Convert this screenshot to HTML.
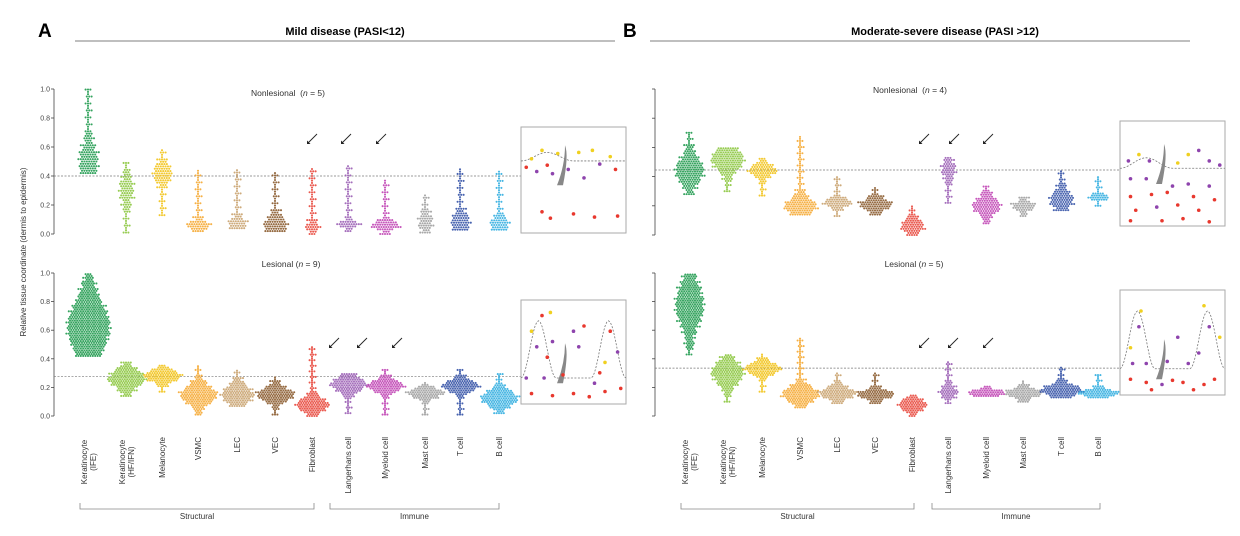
<!DOCTYPE html>
<html><head><meta charset="utf-8"><style>
html,body{margin:0;padding:0;background:#fff;}
svg{display:block;font-family:"Liberation Sans",sans-serif;}
</style></head><body>
<svg id="fig" width="1240" height="536" viewBox="0 0 1240 536">
<g>
<text x="38" y="37" font-size="19" font-weight="bold">A</text>
<text x="345" y="35" font-size="11" font-weight="bold" text-anchor="middle">Mild disease (PASI&lt;12)</text>
<line x1="75" y1="41" x2="615" y2="41" stroke="#555" stroke-width="0.8"/>
</g>
<g>
<text x="623" y="37" font-size="19" font-weight="bold">B</text>
<text x="945" y="35" font-size="11" font-weight="bold" text-anchor="middle">Moderate-severe disease (PASI &gt;12)</text>
<line x1="650" y1="41" x2="1190" y2="41" stroke="#555" stroke-width="0.8"/>
</g>
<text transform="translate(26,252) rotate(-90)" font-size="8" text-anchor="middle" fill="#333">Relative tissue coordinate (dermis to epidermis)</text>
<g id="plots"></g>
<g id="insets"></g>
</svg>
<script>
const categories = ["Keratinocyte|(IFE)","Keratinocyte|(HF/IFN)","Melanocyte","VSMC","LEC","VEC","Fibroblast","Langerhans cell","Myeloid cell","Mast cell","T cell","B cell"];
const colors = ["#1f9a4e","#8cc63f","#f2c31a","#f5a832","#c9a26e","#8a5a2c","#e8473c","#9b5fb5","#c044b4","#9e9e9e","#3452a6","#32aee0"];
const tickLabels = ["0.0","0.2","0.4","0.6","0.8","1.0"];
const tickValues = [0,0.2,0.4,0.6,0.8,1.0];
// per-panel summaries: min, max, dense centre, spread, max half-width (dots)
const aNLmin=[.42,.01,.13,.02,.04,.02,0,.02,0,.01,.03,.03];
const aNLmax=[1.0,.5,.59,.44,.44,.43,.46,.48,.37,.28,.45,.43];
const aNLmed=[.5,.3,.42,.06,.07,.06,.05,.07,.06,.08,.08,.07];
const aNLspr=[.15,.12,.08,.04,.05,.08,.04,.03,.04,.08,.08,.06];
const aNLwid=[3,2,3,4,3,4,2,4,5,2,3,3];
const aNLref=0.40;
const aLmin=[.42,.14,.17,.01,.07,.01,0,.02,.01,.01,.01,.02];
const aLmax=[1.0,.38,.36,.35,.32,.28,.49,.3,.33,.24,.33,.3];
const aLmed=[.62,.26,.28,.15,.15,.15,.08,.22,.21,.16,.21,.12];
const aLspr=[.25,.08,.05,.08,.08,.06,.06,.06,.05,.04,.05,.07];
const aLwid=[8,7,7,7,6,7,6,7,7,7,7,7];
const aLref=0.275;
const bNLmin=[.28,.3,.27,.14,.13,.14,0,.22,.08,.13,.17,.2];
const bNLmax=[.7,.6,.53,.68,.4,.33,.2,.54,.34,.26,.44,.4];
const bNLmed=[.44,.52,.44,.2,.22,.21,.06,.45,.2,.2,.24,.26];
const bNLspr=[.12,.1,.05,.07,.04,.05,.06,.08,.07,.04,.08,.02];
const bNLwid=[5,6,5,6,5,6,4,2,5,4,4,4];
const bNLref=0.445;
const bLmin=[.43,.1,.17,.06,.09,.09,0,.09,.14,.1,.13,.13];
const bLmax=[1.0,.43,.43,.55,.3,.31,.15,.38,.21,.25,.34,.29];
const bLmed=[.78,.3,.33,.15,.16,.15,.08,.17,.16,.16,.18,.16];
const bLspr=[.2,.1,.05,.07,.05,.04,.05,.05,.03,.04,.05,.03];
const bLwid=[5,6,7,7,7,7,5,3,7,7,8,8];
const bLref=0.335;

const NS="http://www.w3.org/2000/svg";
const plots=document.getElementById('plots');
function mk(tag,attrs,parent){const e=document.createElementNS(NS,tag);for(const k in attrs)e.setAttribute(k,attrs[k]);parent.appendChild(e);return e;}

function drawPanel(cfg){
  const g=mk('g',{},plots);
  
  
  const y=v=>cfg.y0-(cfg.y0-cfg.y1)*v;
  const x=i=>cfg.xs[i];
  const ax=mk('line',{x1:cfg.ax,y1:y(0),x2:cfg.ax,y2:y(1),stroke:'#444','stroke-width':0.8},g);
  
  
  tickValues.forEach((t,k)=>{
    mk('line',{x1:cfg.ax-3,y1:y(t),x2:cfg.ax,y2:y(t),stroke:'#444','stroke-width':0.8},g);
    if(cfg.labels){const tl=mk('text',{x:cfg.ax-4,y:y(t)+2.5,'font-size':7,'text-anchor':'end',fill:'#444'},g);tl.textContent=tickLabels[k];
      
      }
  });
  const rl=mk('line',{x1:cfg.ax,y1:y(cfg.ref),x2:cfg.refEnd,y2:y(cfg.ref),stroke:'#777','stroke-width':0.7,'stroke-dasharray':'2,1.5'},g);
  
  
  const st=mk('text',{x:cfg.subX,y:cfg.subY,'font-size':8.5,'text-anchor':'middle',fill:'#333'},g);
  st.innerHTML=cfg.sub;
  
  
  categories.forEach((c,i)=>{
    const sw=mk('g',{fill:colors[i],'fill-opacity':0.9},g);
    
    
    const lo=cfg.min[i],hi=cfg.max[i],m=cfg.med[i],s=cfg.spr[i],w=cfg.wid[i];
    let row=0;
    for(let v=lo;v<=hi+1e-9;v+=cfg.step){
      const d=(v-m)/s;
      const n=Math.round(w*Math.exp(-d*d))+(row%3===0?1:0);
      const off=(row%2)*1.2;
      for(let j=-n;j<=n;j++){
        mk('circle',{cx:x(i)+j*2.4+(n?off:0),cy:y(v),r:1.05},sw);
      }
      row++;
    }
  });
  cfg.arrows.forEach(a=>{
    const ar=mk('g',{},g);
    
    
    mk('line',{x1:a[0]+5,y1:a[1]-5,x2:a[0]-4,y2:a[1]+4,stroke:'#222','stroke-width':0.9},ar);
    mk('path',{d:`M${a[0]-5} ${a[1]+5} l0 -3.5 l3.5 3.5z`,fill:'#222'},ar);
  });
}
const xsA=[88,126,162,198,237,275,312,348,385,425,460,499];
const xsB=[689,727,762,800,837,875,912,948,986,1023,1061,1098];
drawPanel({name:'panel-a-nonlesional',step:0.016,y0:234,y1:89,ax:54,xs:xsA,labels:true,min:aNLmin,max:aNLmax,med:aNLmed,spr:aNLspr,wid:aNLwid,ref:aNLref,refEnd:620,sub:'Nonlesional&#160;&#160;(<tspan font-style="italic">n</tspan> = 5)',subX:288,subY:96,arrows:[[312,139],[346,139],[381,139]]});
drawPanel({name:'panel-a-lesional',step:0.013,y0:416,y1:273,ax:54,xs:xsA,labels:true,min:aLmin,max:aLmax,med:aLmed,spr:aLspr,wid:aLwid,ref:aLref,refEnd:620,sub:'Lesional (<tspan font-style="italic">n</tspan> = 9)',subX:291,subY:267,arrows:[[334,343],[362,343],[397,343]]});
drawPanel({name:'panel-b-nonlesional',step:0.014,y0:235,y1:89,ax:655,xs:xsB,labels:false,min:bNLmin,max:bNLmax,med:bNLmed,spr:bNLspr,wid:bNLwid,ref:bNLref,refEnd:1225,sub:'Nonlesional&#160;&#160;(<tspan font-style="italic">n</tspan> = 4)',subX:910,subY:93,arrows:[[924,139],[954,139],[988,139]]});
drawPanel({name:'panel-b-lesional',step:0.013,y0:416,y1:273,ax:655,xs:xsB,labels:false,min:bLmin,max:bLmax,med:bLmed,spr:bLspr,wid:bLwid,ref:bLref,refEnd:1225,sub:'Lesional (<tspan font-style="italic">n</tspan> = 5)',subX:914,subY:267,arrows:[[924,343],[953,343],[988,343]]});

function drawLabels(xs,br,name){
  const g=mk('g',{},plots);
  
  
  categories.forEach((c,i)=>{
    const parts=c.split('|');
    const t=mk('text',{transform:`translate(${xs[i]},437) rotate(-90)`,'font-size':8,'text-anchor':'end',fill:'#333'},g);
    
    
    parts.forEach((p,k)=>{const ts=mk('tspan',{x:0,dy:k?9:(parts.length>1?-1:3)},t);ts.textContent=p;});
    if(parts.length>1){t.setAttribute('text-anchor','middle');t.setAttribute('transform',`translate(${xs[i]},${462}) rotate(-90)`);}
  });
  const groups=[["Structural",br[0],br[1]],["Immune",br[2],br[3]]];
  groups.forEach(gp=>{
    const b=mk('path',{d:`M${gp[1]} 503 V509 H${gp[2]} V503`,fill:'none',stroke:'#888','stroke-width':0.8},g);
    
    
    const t=mk('text',{x:(gp[1]+gp[2])/2,y:519,'font-size':8,'text-anchor':'middle',fill:'#333'},g);
    t.textContent=gp[0];
    
    
  });
}
drawLabels(xsA,[80,314,330,499],'panel-a-x-labels');
drawLabels(xsB,[681,914,932,1100],'panel-b-x-labels');

const insets=document.getElementById('insets');
function inset(x0,y0,w,h,name,peaks){
  const g=mk('g',{},insets);
  
  
  mk('rect',{x:x0,y:y0,width:w,height:h,fill:'#fff',stroke:'#aaa','stroke-width':1},g);
  const base=y0+h*peaks.base,amp=h*peaks.amp;
  let d=`M${x0} ${base}`;
  for(let k=0;k<=60;k++){const t=k/60;d+=` L${x0+t*w} ${base-amp*Math.pow(Math.max(0,Math.sin(Math.PI*t*peaks.n)),2)}`;}
  mk('path',{d:d,fill:'none',stroke:'#777','stroke-width':0.8,'stroke-dasharray':'2,1.5'},g);
  mk('path',{d:`M${x0+w*0.4} ${y0+h*peaks.hair} q6 -30 2 -40 q0 20 -8 40z`,fill:'#888'},g);
  peaks.dots.forEach(p=>mk('circle',{cx:x0+p[0]*w,cy:y0+p[1]*h,r:1.8,fill:p[2]},g));
}
const Y='#f0d020',P='#8e44ad',R='#e8382e';
inset(521,127,105,106,'inset-a-nonlesional',{base:.32,amp:.08,n:2,hair:.55,dots:[[.1,.3,Y],[.2,.22,Y],[.35,.25,Y],[.55,.24,Y],[.68,.22,Y],[.85,.28,Y],[.05,.38,R],[.15,.42,P],[.25,.36,R],[.3,.44,P],[.45,.4,P],[.6,.48,P],[.75,.35,P],[.9,.4,R],[.2,.8,R],[.28,.86,R],[.5,.82,R],[.7,.85,R],[.92,.84,R]]});
inset(521,300,105,104,'inset-a-lesional',{base:.75,amp:.55,n:3,hair:.8,dots:[[.1,.3,Y],[.2,.15,R],[.28,.12,Y],[.15,.45,P],[.3,.4,P],[.25,.55,R],[.05,.75,P],[.22,.75,P],[.4,.72,R],[.5,.3,P],[.55,.45,P],[.6,.25,R],[.7,.8,P],[.8,.6,Y],[.85,.3,R],[.92,.5,P],[.75,.7,R],[.1,.9,R],[.3,.92,R],[.5,.9,R],[.65,.93,R],[.8,.88,R],[.95,.85,R]]});
inset(1120,121,105,105,'inset-b-nonlesional',{base:.45,amp:.1,n:2,hair:.6,dots:[[.08,.38,P],[.18,.32,Y],[.28,.38,P],[.55,.4,Y],[.65,.32,Y],[.75,.28,P],[.85,.38,P],[.95,.42,P],[.1,.55,P],[.25,.55,P],[.5,.62,P],[.65,.6,P],[.85,.62,P],[.1,.72,R],[.3,.7,R],[.45,.68,R],[.7,.72,R],[.9,.75,R],[.15,.85,R],[.35,.82,P],[.55,.8,R],[.75,.85,R],[.1,.95,R],[.4,.95,R],[.6,.93,R],[.85,.96,R]]});
inset(1120,290,105,105,'inset-b-lesional',{base:.75,amp:.55,n:3,hair:.85,dots:[[.1,.55,Y],[.2,.2,Y],[.18,.35,P],[.12,.7,P],[.25,.7,P],[.55,.45,P],[.45,.68,P],[.65,.7,P],[.8,.15,Y],[.85,.35,P],[.95,.45,Y],[.75,.6,P],[.1,.85,R],[.25,.88,R],[.4,.9,P],[.5,.86,R],[.6,.88,R],[.8,.9,R],[.9,.85,R],[.3,.95,R],[.7,.95,R]]});
</script>
</body></html>
